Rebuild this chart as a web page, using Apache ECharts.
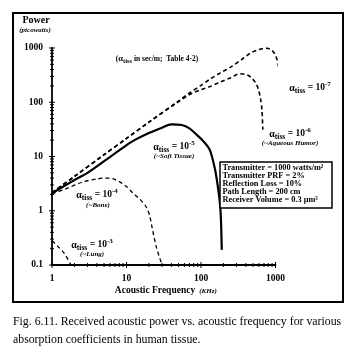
<!DOCTYPE html>
<html><head><meta charset="utf-8">
<script src="https://cdn.jsdelivr.net/npm/echarts@6/dist/echarts.min.js"></script>
<style>html,body{margin:0;padding:0;background:#fff}#c{width:356px;height:354px}</style>
</head><body><div id="c"></div>
<script>
// ---- data ----
const xTickLabels = ['1', '10', '100', '1000'];
const yTickLabels = ['0.1', '1', '10', '100', '1000'];
const minorMult = [2, 3, 4, 5, 6, 7, 8, 9];

// alpha = 1e-7
const freq7 = [1, 2, 5, 10, 20, 47, 70, 100, 133, 180, 247, 350, 458, 600, 769, 900, 994, 1060, 1100, 1160, 1200, 1223];
const pow7  = [2.15, 4.3, 10.8, 21.5, 43, 99, 148, 205, 268, 345, 440, 610, 800, 940, 990, 900, 743, 580, 452, 257, 130, 63];
// alpha = 1e-6 (aqueous humor)
const freq6 = [1, 2, 5, 10, 20, 47, 70, 100, 133, 180, 246, 336, 420, 483, 550, 593, 630, 658, 675];
const pow6  = [2.15, 4.3, 10.8, 21.5, 43, 97, 138, 170, 195, 235, 280, 335, 318, 276, 220, 168, 115, 72, 31];
// alpha = 1e-5 (soft tissue)
const freq5 = [1, 2, 3, 5, 8, 12, 20, 30, 40, 55, 70, 88, 108, 132, 155, 171, 181, 186, 190];
const pow5  = [2.1, 3.7, 5.0, 8.2, 13, 19, 27, 34, 39, 38, 33, 25, 19, 13, 5.6, 2.4, 1.2, 0.6, 0.19];
// alpha = 1e-4 (bone)
const freq4 = [1, 1.5, 2.6, 4, 5.1, 6.5, 8.1, 10, 12.3, 15, 18.6, 20.5, 22, 25, 30];
const pow4  = [2.05, 2.5, 3.4, 3.85, 4.0, 3.9, 3.4, 2.8, 2.1, 1.65, 1.15, 0.8, 0.5, 0.22, 0.1];
// alpha = 1e-3 (lung)
const freq3 = [1, 1.2, 1.48, 1.8];
const pow3  = [0.28, 0.22, 0.16, 0.1];

const infoLines = [
  'Transmitter = 1000 watts/m²',
  'Transmitter PRF = 2%',
  'Reflection Loss = 10%',
  'Path Length = 200 cm',
  'Receiver Volume = 0.3 µm³'
];

// ---- build ----
const X_MIN = 1, X_MAX = 1000, Y_MIN = 0.1, Y_MAX = 1000;
const zip = (a, b) => a.map((v, i) => [v, b[i]]);
const xMajor = xTickLabels.map(Number);
const yMajor = yTickLabels.map(Number);
const xMinor = [], yMinor = [];
xMajor.slice(0, -1).forEach(d => minorMult.forEach(m => xMinor.push(d * m)));
yMajor.slice(0, -1).forEach(d => minorMult.forEach(m => yMinor.push(d * m)));

const SERIF = '"Liberation Serif", "DejaVu Serif", serif';
const chart = echarts.init(document.getElementById('c'), null, {renderer: 'canvas'});

function tickSeries(vals, isX, len) {
  return {
    type: 'custom', silent: true, clip: false, z: 5,
    data: vals.map(v => isX ? [v, Y_MIN] : [X_MIN, v]),
    renderItem: (params, api) => {
      const p = api.coord([api.value(0), api.value(1)]);
      return {
        type: 'line',
        shape: isX ? {x1: p[0], y1: p[1] - len, x2: p[0], y2: p[1] + len}
                   : {x1: p[0] - len, y1: p[1], x2: p[0] + len, y2: p[1]},
        style: {stroke: '#000', lineWidth: 1}
      };
    }
  };
}

function curve(f, p, width, dashed) {
  return {
    type: 'line', data: zip(f, p), showSymbol: false, symbol: 'none',
    smooth: 0.3, clip: false, z: 3,
    lineStyle: {color: '#000', width: width, type: dashed ? [4, 3] : 'solid', cap: 'butt'}
  };
}

const alphaRich = {
  a: {fontFamily: SERIF, fontSize: 10, fontWeight: 'bold', color: '#000', lineHeight: 14, verticalAlign: 'middle'},
  s: {fontFamily: SERIF, fontSize: 7.5, fontWeight: 'bold', color: '#000', lineHeight: 14, verticalAlign: 'bottom'},
  n: {fontFamily: SERIF, fontSize: 9.5, fontWeight: 'bold', color: '#000', lineHeight: 14, verticalAlign: 'middle'},
  p: {fontFamily: SERIF, fontSize: 7, fontWeight: 'bold', color: '#000', lineHeight: 14, verticalAlign: 'top'}
};
function alphaLabel(exp, x, y) {
  return {type: 'text', z: 10, style: {
    text: '{a|α}{s|tiss}{n| = 10}{p|' + exp + '}', rich: alphaRich,
    x: x, y: y, align: 'center', verticalAlign: 'middle'
  }};
}
function italicNote(t, x, y) {
  return {type: 'text', z: 10, style: {
    text: t, x: x, y: y, align: 'center', verticalAlign: 'middle',
    font: 'italic bold 7px ' + SERIF, fill: '#000'
  }};
}

const graphics = [
  {type: 'rect', z: 1, shape: {x: 13, y: 13, width: 330, height: 289}, style: {fill: 'none', stroke: '#000', lineWidth: 2}},
  {type: 'text', style: {text: 'Power', x: 36, y: 20, align: 'center', verticalAlign: 'middle', font: 'bold 10px ' + SERIF, fill: '#000'}},
  {type: 'text', style: {text: '(picowatts)', x: 35, y: 30, align: 'center', verticalAlign: 'middle', font: 'italic bold 7px ' + SERIF, fill: '#000'}},
  {type: 'text', style: {text: 'Acoustic Frequency', x: 155, y: 291, align: 'center', verticalAlign: 'middle', font: 'bold 9.5px ' + SERIF, fill: '#000'}},
  {type: 'text', style: {text: '(KHz)', x: 208, y: 291, align: 'center', verticalAlign: 'middle', font: 'italic bold 7px ' + SERIF, fill: '#000'}},
  {type: 'text', z: 10, style: {
    text: '({a|α}{s|tiss}{n| in sec/m;  Table 4-2)}', x: 157, y: 59, align: 'center', verticalAlign: 'middle',
    rich: {
      a: {fontFamily: SERIF, fontSize: 8.5, fontWeight: 'bold', lineHeight: 12, verticalAlign: 'middle'},
      s: {fontFamily: SERIF, fontSize: 6.5, fontWeight: 'bold', lineHeight: 12, verticalAlign: 'bottom'},
      n: {fontFamily: SERIF, fontSize: 7.5, fontWeight: 'bold', lineHeight: 12, verticalAlign: 'middle'}
    },
    font: 'bold 7.5px ' + SERIF, fill: '#000'
  }},
  alphaLabel('-7', 310, 88),
  alphaLabel('-6', 290, 134),
  italicNote('(~Aqueous Humor)', 290, 143),
  alphaLabel('-5', 174, 147),
  italicNote('(~Soft Tissue)', 174, 156),
  alphaLabel('-4', 97, 195),
  italicNote('(~Bone)', 98, 205),
  alphaLabel('-3', 92, 245),
  italicNote('(~Lung)', 92, 254),
  {type: 'rect', z: 9, shape: {x: 220, y: 162, width: 112, height: 46}, style: {fill: '#fff', stroke: '#000', lineWidth: 1.5}},
  {type: 'text', z: 10, style: {
    text: infoLines.join('\n'), x: 222.5, y: 164, align: 'left', verticalAlign: 'top',
    font: 'bold 8.3px ' + SERIF, lineHeight: 7.9, fill: '#000'
  }},
  {type: 'text', style: {
    text: 'Fig. 6.11. Received acoustic power vs. acoustic frequency for various\nabsorption coefficients in human tissue.',
    x: 13, y: 313, align: 'left', verticalAlign: 'top',
    font: '11.8px ' + SERIF, lineHeight: 18, fill: '#000'
  }}
];

chart.setOption({
  animation: false,
  backgroundColor: '#fff',
  grid: {left: 52, right: 80.5, top: 48, bottom: 89, containLabel: false, outerBoundsMode: 'none'},
  xAxis: {
    type: 'log', logBase: 10, min: X_MIN, max: X_MAX,
    axisLine: {show: true, onZero: false, lineStyle: {color: '#000', width: 1.8}},
    axisTick: {show: false}, splitLine: {show: false}, minorTick: {show: false},
    axisLabel: {show: true, margin: 9, color: '#000', fontFamily: SERIF, fontWeight: 'bold', fontSize: 9.5,
      formatter: v => xTickLabels[xMajor.indexOf(v)] ?? ''}
  },
  yAxis: {
    type: 'log', logBase: 10, min: Y_MIN, max: Y_MAX,
    axisLine: {show: true, onZero: false, lineStyle: {color: '#000', width: 1.8}},
    axisTick: {show: false}, splitLine: {show: false}, minorTick: {show: false},
    axisLabel: {show: true, margin: 9, color: '#000', fontFamily: SERIF, fontWeight: 'bold', fontSize: 9.5,
      formatter: v => { const i = yMajor.findIndex(m => Math.abs(m - v) / m < 1e-6); return i >= 0 ? yTickLabels[i] : ''; }}
  },
  series: [
    curve(freq7, pow7, 1.6, true),
    curve(freq6, pow6, 1.6, true),
    curve(freq5, pow5, 2.2, false),
    curve(freq4, pow4, 1.3, true),
    curve(freq3, pow3, 1.3, true),
    tickSeries(xMajor, true, 3),
    tickSeries(xMinor, true, 2),
    tickSeries(yMajor, false, 3),
    tickSeries(yMinor, false, 2)
  ],
  graphic: {elements: graphics}
});
</script></body></html>
